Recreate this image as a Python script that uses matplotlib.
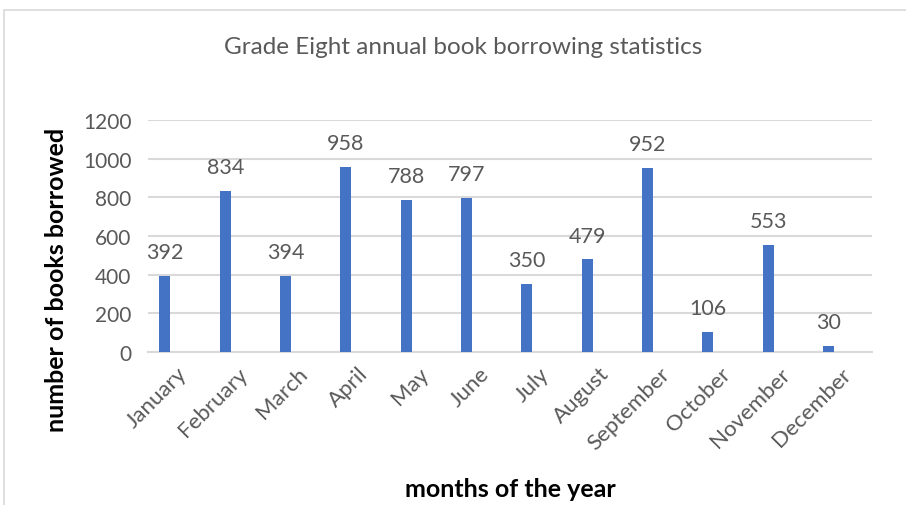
import matplotlib.pyplot as plt
from matplotlib.patches import Rectangle
from matplotlib.transforms import ScaledTranslation

# borrowing counts per month, grade eight
months = ["January", "February", "March", "April", "May", "June",
          "July", "August", "September", "October", "November", "December"]
borrowed = [392, 834, 394, 958, 788, 797, 350, 479, 952, 106, 553, 30]
y_ticks = [0, 200, 400, 600, 800, 1000, 1200]

plt.rcParams["font.family"] = ["Lato", "DejaVu Sans"]
grey = "#595959"

fig = plt.figure(figsize=(9.06, 5.06), dpi=100)
ax = fig.add_axes([148 / 906, 1 - 353 / 506, 724 / 906, 232 / 506])

# light chart frame
fig.patches.append(Rectangle((4 / 906, -0.05), 1.0, 1 - 11 / 506 + 0.05,
                             transform=fig.transFigure, fill=False,
                             edgecolor="#D9D9D9", linewidth=1.2))

x = range(len(months))
ax.bar(x, borrowed, width=0.18, color="#4472C4", zorder=3)
for i, v in enumerate(borrowed):
    ax.annotate(str(v), (i, v), xytext=(0, 10), textcoords="offset points",
                ha="center", va="bottom", fontsize=15.5, color=grey)

ax.set_xlim(-0.28, 11.72)
ax.set_ylim(0, 1200)
ax.set_yticks(y_ticks)
ax.set_yticklabels([str(t) for t in y_ticks], fontsize=15, color=grey)
ax.set_xticks(list(x))
ax.set_xticklabels(months, rotation=45, ha="right", rotation_mode="anchor",
                   fontsize=16, color=grey)
ax.tick_params(length=0, pad=12)
ax.tick_params(axis="x", pad=8)
shift = ScaledTranslation(12 / 100, 0, fig.dpi_scale_trans)
for lbl in ax.get_xticklabels():
    lbl.set_transform(lbl.get_transform() + shift)
ax.grid(axis="y", color="#D9D9D9", linewidth=1.5, zorder=0)
for s in ["top", "right", "left"]:
    ax.spines[s].set_visible(False)
ax.spines["bottom"].set_color("#D9D9D9")
ax.spines["bottom"].set_linewidth(1.5)

fig.text(463 / 906, 1 - 47 / 506, "Grade Eight annual book borrowing statistics",
         ha="center", va="center", fontsize=17.5, color=grey)
fig.text(57 / 906, 1 - 280 / 506, "number of books borrowed", rotation=90,
         ha="center", va="center", fontsize=18, fontweight="bold", color="black")
fig.text(510 / 906, 1 - 490 / 506, "months of the year",
         ha="center", va="center", fontsize=18, fontweight="bold", color="black")

fig.savefig("out.png", dpi=100)
